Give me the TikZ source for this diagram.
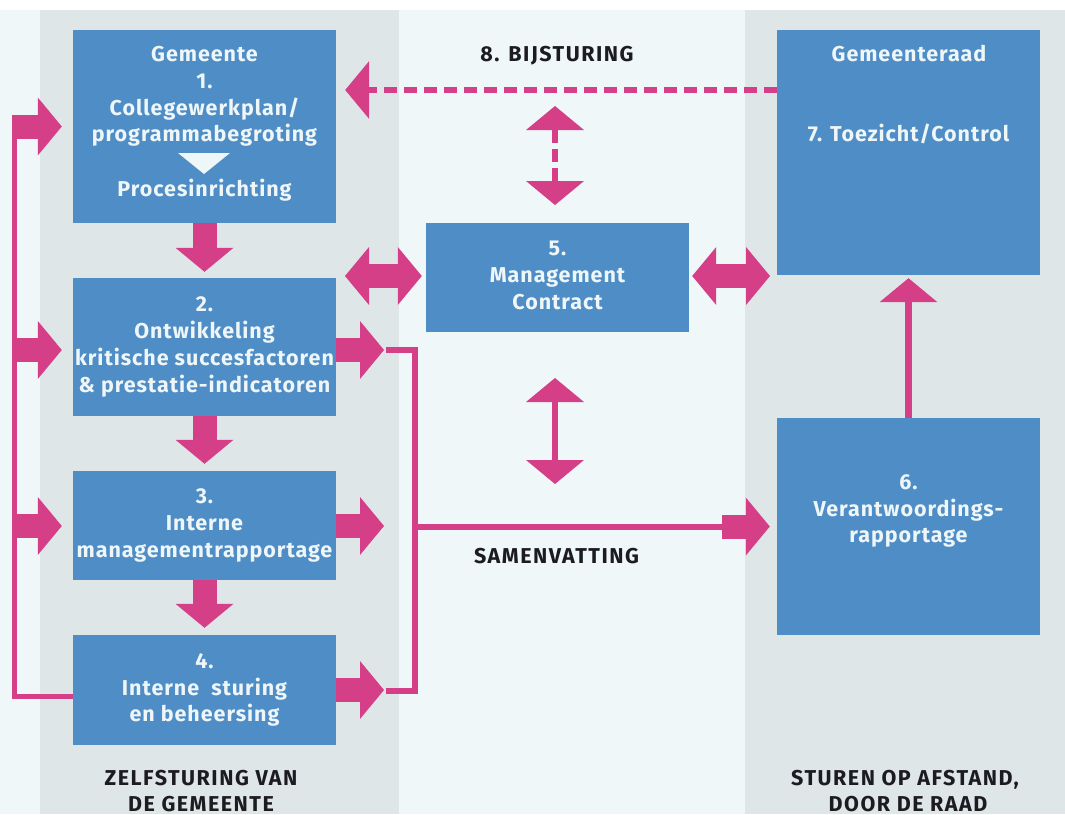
\documentclass[tikz,border=0pt]{standalone}
\usepackage{fontspec}
\setmainfont{Fira Sans}[LetterSpace=4.5]
\newfontfamily\lblfamily{Fira Sans}[LetterSpace=7]
\usetikzlibrary{arrows.meta}
\definecolor{bglight}{HTML}{EFF7F9}
\definecolor{colgrey}{HTML}{DFE6E8}
\definecolor{boxblue}{HTML}{4F8DC6}
\definecolor{mag}{HTML}{D53F87}
\definecolor{boxtxt}{HTML}{EEF6F8}
\definecolor{dark}{HTML}{1C1B21}
\newcommand{\boxfont}{\bfseries\fontsize{21.5}{26.7}\selectfont}
\newcommand{\lblfont}{\lblfamily\bfseries\fontsize{21.5}{26.7}\selectfont}
\tikzset{Fat/.tip={Triangle[width=58pt,length=24pt,line width=0pt 0 0]}}
\begin{document}
\begin{tikzpicture}[x=1pt,y=-1pt,
  boxnode/.style={fill=boxblue, inner sep=0pt, minimum width=263pt, text=boxtxt, font=\boxfont, align=center},
  boxtext/.style={text=boxtxt, font=\boxfont, inner sep=0pt},
  lbl/.style={text=dark, font=\lblfont, inner sep=0pt},
  fatarrow/.style={draw=mag, line width=24pt, -{Fat}},
  fatdouble/.style={draw=mag, line width=24pt, {Fat}-{Fat}},
  slimline/.style={draw=mag, line width=6pt},
  slimarrow/.style={draw=mag, line width=6.5pt, -{Fat}},
  slimdouble/.style={draw=mag, line width=6.5pt, {Fat}-{Fat}},
  dashline/.style={draw=mag, line width=6pt, dash pattern=on 13pt off 7pt},
]
% background
\fill[white] (0,0) rectangle (1065,814);
\fill[bglight] (0,10) rectangle (1065,814);
\fill[colgrey] (40,10) rectangle (399,814);
\fill[colgrey] (745,10) rectangle (1065,814);
\useasboundingbox (0,0) rectangle (1065,814);

% boxes
\node[boxnode, minimum height=193pt] (b1) at (204.5,126.5) {};
\node[boxnode, minimum height=138pt] (b2) at (204.5,347) {2.\\Ontwikkeling\\kritische succesfactoren\\\& prestatie-indicatoren};
\node[boxnode, minimum height=109pt] (b3) at (204.5,525.5) {3.\\Interne\\managementrapportage};
\node[boxnode, minimum height=110pt] (b4) at (204.5,690) {4.\\Interne\ \ sturing\\en beheersing};
\node[boxnode, minimum height=109pt] (b5) at (557.5,277.5) {5.\\Management\\Contract\vphantom{g}};
\node[boxnode, minimum height=217pt] (b6) at (908.5,526.5) {};
\node[boxnode, minimum height=245pt] (b7) at (908.5,152.5) {};

% box 1 text
\node[boxtext, anchor=base] (t1a) at (204.5,61) {Gemeente};
\node[boxtext, anchor=base] (t1b) at (204.5,88.3) {1.};
\node[boxtext, anchor=base] (t1c) at (204.5,115) {Collegewerkplan/};
\node[boxtext, anchor=base] (t1d) at (204.5,141.7) {programmabegroting};
\fill[boxtxt] (178,153) -- (230,153) -- (204,174) -- cycle;
\node[boxtext, anchor=base] (t1e) at (204.5,196.7) {Procesinrichting};
% box 6 text
\node[boxtext, anchor=base] (t6a) at (908.5,489) {6.};
\node[boxtext, anchor=base] (t6b) at (908.5,516) {Verantwoordings-};
\node[boxtext, anchor=base] (t6c) at (908.5,542.5) {rapportage};
% box 7 text
\node[boxtext, anchor=base] (t7a) at (909,61) {Gemeenteraad};
\node[boxtext, anchor=base] (t7b) at (908.5,141.7) {7. Toezicht/Control};

% labels
\node[lbl, anchor=base] (lb8) at (557,61) {8. BIJSTURING};
\node[lbl, anchor=base] (lbs) at (556.5,563.3) {SAMENVATTING};
\node[lbl, anchor=base] (lz1) at (201,785) {ZELFSTURING VAN};
\node[lbl, anchor=base] (lz2) at (201,811) {DE GEMEENTE};
\node[lbl, anchor=base] (ls1) at (905,785) {STUREN OP AFSTAND,};
\node[lbl, anchor=base] (ls2) at (908,811) {DOOR DE RAAD};

% downward chain
\draw[fatarrow, shorten >=6pt] (b1) -- (b2);
\draw[fatarrow, shorten >=7pt] (b2) -- (b3);
\draw[fatarrow, shorten >=7pt] (b3) -- (b4);

% left feedback loop
\coordinate (ltop) at (14.5,116);
\coordinate (lbot) at (14.5,696.5);
\draw[slimline, line width=5.5pt] (lbot -| b4.west) -- (lbot) -- (ltop);
\coordinate (lp1) at (12,126.5);
\coordinate (lp2) at (12,350);
\coordinate (lp3) at (12,526);
\draw[fatarrow, shorten >=11pt] (lp1) -- (lp1 -| b1.west);
\draw[fatarrow, shorten >=11pt] (lp2) -- (lp2 -| b2.west);
\draw[fatarrow, shorten >=11pt] (lp3) -- (lp3 -| b3.west);

% right outputs and summary bracket
\coordinate (e2) at (384,350);
\coordinate (e3) at (384,526);
\coordinate (e4) at (384,690);
\draw[fatarrow] (e2 -| b2.east) -- (e2);
\draw[fatarrow] (e3 -| b3.east) -- (e3);
\draw[fatarrow] (e4 -| b4.east) -- (e4);
\coordinate (k1) at (386,349.5);
\coordinate (k2) at (415,349.5);
\coordinate (k3) at (415,691);
\coordinate (k4) at (386,691);
\coordinate (km) at (415,526.5);
\coordinate (sv) at (722,526.5);
\draw[slimline] (k1) -- (k2) -- (k3) -- (k4);
\draw[slimline] (km) -- (sv);
\draw[fatarrow, shorten >=7pt] (sv) -- (sv -| b6.west);

% management contract double arrows
\coordinate (h1) at (345,276);
\coordinate (h2) at (770,276);
\draw[fatdouble, shorten >=4pt] (h1) -- (h1 -| b5.west);
\draw[fatdouble, shorten <=3pt] (h2 -| b5.east) -- (h2);

% bijsturing dashed arrow
\coordinate (dy) at (0,90);
\draw[dashline, -{Fat}, shorten >=9pt] (dy -| b7.west) -- (dy -| b1.east);
\coordinate (v1) at (555,106);
\coordinate (v2) at (555,205);
\draw[dashline, dash pattern=on 13pt off 6pt, {Fat}-{Fat}] (v1) -- (v2);

% vertical solid double arrow
\coordinate (v3) at (555,378);
\coordinate (v4) at (555,484);
\draw[slimdouble] (v3) -- (v4);

% verantwoording to toezicht
\draw[slimarrow, shorten >=3pt] (b6) -- (b7);
\end{tikzpicture}
\end{document}
